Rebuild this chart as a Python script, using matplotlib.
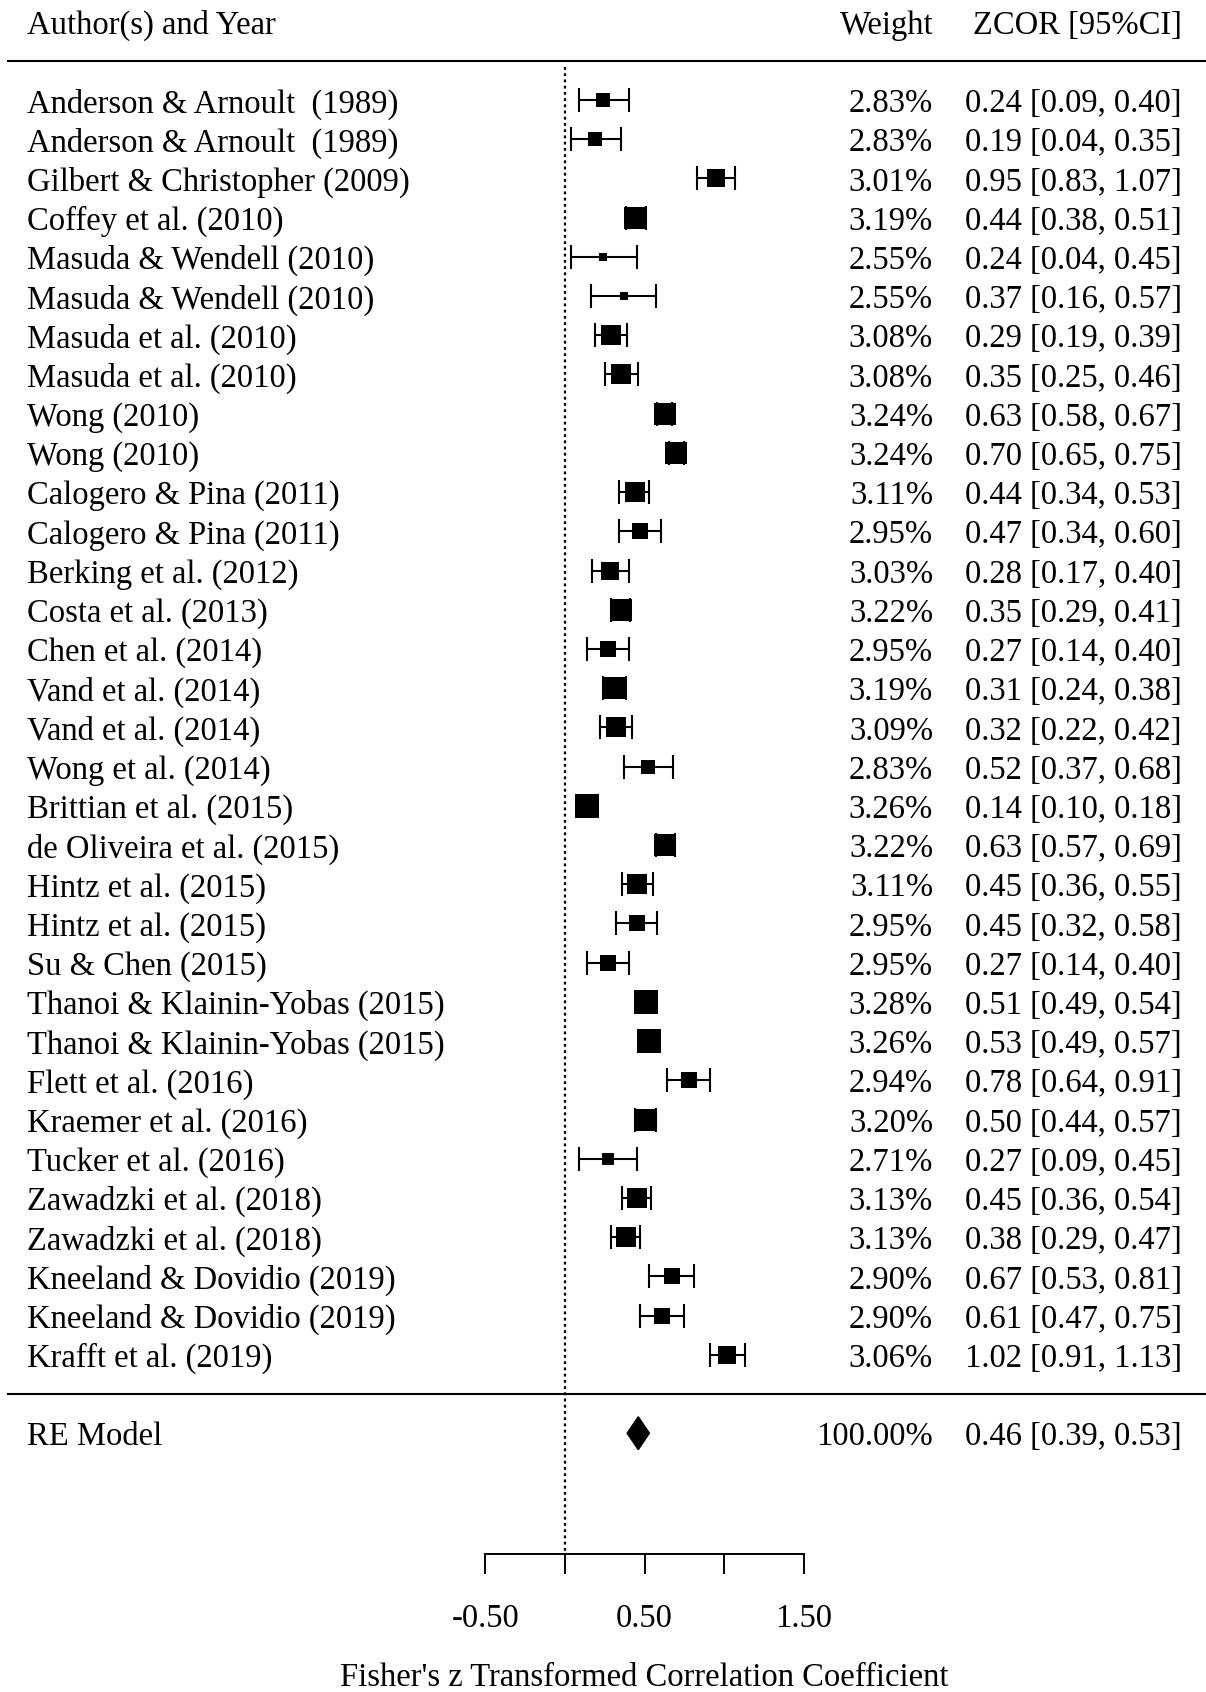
import matplotlib
matplotlib.use("Agg")
import matplotlib.pyplot as plt

# study labels, top to bottom
studies = [
    "Anderson & Arnoult  (1989)", "Anderson & Arnoult  (1989)",
    "Gilbert & Christopher (2009)", "Coffey et al. (2010)",
    "Masuda & Wendell (2010)", "Masuda & Wendell (2010)",
    "Masuda et al. (2010)", "Masuda et al. (2010)",
    "Wong (2010)", "Wong (2010)",
    "Calogero & Pina (2011)", "Calogero & Pina (2011)",
    "Berking et al. (2012)", "Costa et al. (2013)", "Chen et al. (2014)",
    "Vand et al. (2014)", "Vand et al. (2014)", "Wong et al. (2014)",
    "Brittian et al. (2015)", "de Oliveira et al. (2015)",
    "Hintz et al. (2015)", "Hintz et al. (2015)", "Su & Chen (2015)",
    "Thanoi & Klainin-Yobas (2015)", "Thanoi & Klainin-Yobas (2015)",
    "Flett et al. (2016)", "Kraemer et al. (2016)", "Tucker et al. (2016)",
    "Zawadzki et al. (2018)", "Zawadzki et al. (2018)",
    "Kneeland & Dovidio (2019)", "Kneeland & Dovidio (2019)",
    "Krafft et al. (2019)",
]
weights = [2.83, 2.83, 3.01, 3.19, 2.55, 2.55, 3.08, 3.08, 3.24, 3.24,
           3.11, 2.95, 3.03, 3.22, 2.95, 3.19, 3.09, 2.83, 3.26, 3.22,
           3.11, 2.95, 2.95, 3.28, 3.26, 2.94, 3.20, 2.71, 3.13, 3.13,
           2.90, 2.90, 3.06]
zcor = [0.24, 0.19, 0.95, 0.44, 0.24, 0.37, 0.29, 0.35, 0.63, 0.70,
        0.44, 0.47, 0.28, 0.35, 0.27, 0.31, 0.32, 0.52, 0.14, 0.63,
        0.45, 0.45, 0.27, 0.51, 0.53, 0.78, 0.50, 0.27, 0.45, 0.38,
        0.67, 0.61, 1.02]
ci_lo = [0.09, 0.04, 0.83, 0.38, 0.04, 0.16, 0.19, 0.25, 0.58, 0.65,
         0.34, 0.34, 0.17, 0.29, 0.14, 0.24, 0.22, 0.37, 0.10, 0.57,
         0.36, 0.32, 0.14, 0.49, 0.49, 0.64, 0.44, 0.09, 0.36, 0.29,
         0.53, 0.47, 0.91]
ci_hi = [0.40, 0.35, 1.07, 0.51, 0.45, 0.57, 0.39, 0.46, 0.67, 0.75,
         0.53, 0.60, 0.40, 0.41, 0.40, 0.38, 0.42, 0.68, 0.18, 0.69,
         0.55, 0.58, 0.40, 0.54, 0.57, 0.91, 0.57, 0.45, 0.54, 0.47,
         0.81, 0.75, 1.13]

# random-effects summary
re_label = "RE Model"
re_weight = 100.00
re_est, re_lo, re_hi = 0.46, 0.39, 0.53

xticks = [-0.5, 0.0, 0.5, 1.0, 1.5]
xticklabels = ["-0.50", "", "0.50", "", "1.50"]
xlabel = "Fisher's z Transformed Correlation Coefficient"

plt.rcParams['font.family'] = ['Liberation Serif', 'DejaVu Serif']
FS = 23.5

fig = plt.figure(figsize=(12.06, 16.92), dpi=100)
ax = fig.add_axes([0, 0, 1, 1])
ax.set_xlim(-3.549, 4.026)
ax.set_ylim(-7.6, 35.55)

k = len(studies)
rows = [k - i for i in range(k)]

# x positions of the text columns (data units)
x_left = -3.38
x_weight = 2.312
x_ci = 3.874
dy = -0.1  # nudge text so glyphs sit centred on the row


def row_text(x, y, s, ha):
    ax.text(x, y + dy, s, ha=ha, va='center', fontsize=FS)


# reference line at zero
ax.plot([0, 0], [33.85, -4.08], color='black', lw=1.6,
        dashes=(1.3, 1.5), zorder=1)

# header and separator lines
ax.plot([-3.5, 4.1], [k + 1, k + 1], color='black', lw=1.5)
ax.plot([-3.5, 4.1], [0, 0], color='black', lw=1.5)

# confidence intervals with end caps
for y, lo, hi in zip(rows, ci_lo, ci_hi):
    ax.errorbar([(lo + hi) / 2], [y], xerr=[[(hi - lo) / 2]], fmt='none',
                ecolor='black', elinewidth=1.5, capsize=8.3, capthick=1.5,
                zorder=2)

# squares sized by weight
w_min, w_max = min(weights), max(weights)
for y, e, w in zip(rows, zcor, weights):
    psize = 0.5 + (w - w_min) / (w_max - w_min)
    ax.plot([e], [y], marker='s', color='black', markersize=11.3 * psize,
            markeredgewidth=0, linestyle='none', zorder=3)

# summary diamond
h = 0.42
ax.fill([re_lo, re_est, re_hi, re_est], [-1, -1 + h, -1, -1 - h],
        color='black', zorder=3)

# text columns
for y, name, w, e, lo, hi in zip(rows, studies, weights, zcor, ci_lo, ci_hi):
    row_text(x_left, y, name, 'left')
    row_text(x_weight, y, f"{w:.2f}%", 'right')
    row_text(x_ci, y, f"{e:.2f} [{lo:.2f}, {hi:.2f}]", 'right')

row_text(x_left, -1, re_label, 'left')
row_text(x_weight, -1, f"{re_weight:.2f}%", 'right')
row_text(x_ci, -1, f"{re_est:.2f} [{re_lo:.2f}, {re_hi:.2f}]", 'right')

row_text(x_left, k + 2, "Author(s) and Year", 'left')
row_text(x_weight, k + 2, "Weight", 'right')
row_text(x_ci, k + 2, "ZCOR [95%CI]", 'right')

# x axis drawn only over the plotted range
for side in ('top', 'left', 'right'):
    ax.spines[side].set_visible(False)
ax.spines['bottom'].set_position(('data', -4.08))
ax.spines['bottom'].set_bounds(-0.5, 1.5)
ax.spines['bottom'].set_linewidth(1.4)
ax.set_xticks(xticks)
ax.set_xticklabels(xticklabels, fontsize=FS)
ax.tick_params(axis='x', direction='out', length=14.4, width=1.4, pad=21.5)
ax.set_yticks([])
ax.text(0.5, -7.24, xlabel, ha='center', va='center', fontsize=FS)

fig.savefig("out.png", dpi=100)
